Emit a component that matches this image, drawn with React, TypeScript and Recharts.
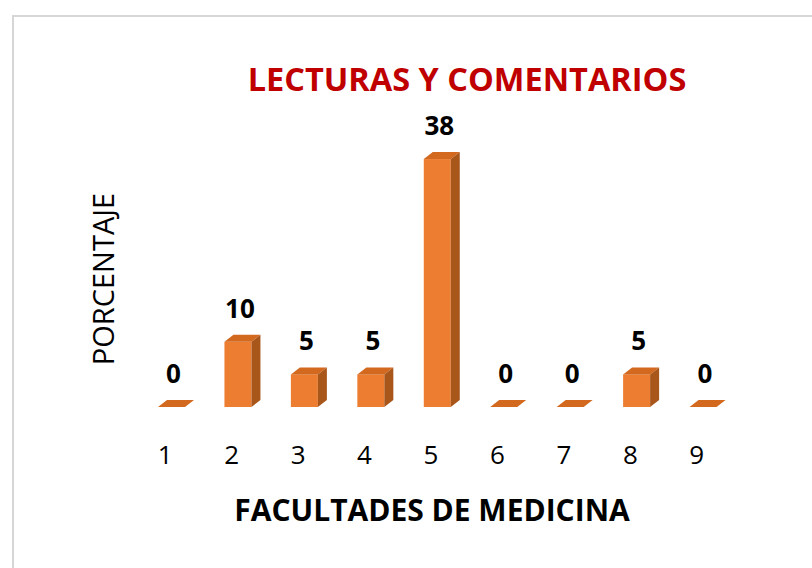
import React from 'react';
import { BarChart, Bar, XAxis, YAxis, LabelList } from 'recharts';

const facultades = ['1', '2', '3', '4', '5', '6', '7', '8', '9'];
const porcentajes = [0, 10, 5, 5, 38, 0, 0, 5, 0];

const data = facultades.map((name, i) => ({ name, value: porcentajes[i] }));

const FONT = '"Open Sans", sans-serif';
const DEPTH_X = 9;
const DEPTH_Y = 7;

// bar with a fake 3D top and right side
const Bar3D = (props: any) => {
  const { x, y, width, height } = props;
  const h = Math.max(height, 0);
  return (
    <g>
      <rect x={x} y={y} width={width} height={h} fill="#ED7D31" />
      <polygon
        points={`${x},${y} ${x + DEPTH_X},${y - DEPTH_Y} ${x + width + DEPTH_X},${y - DEPTH_Y} ${x + width},${y}`}
        fill="#D2691F"
      />
      <polygon
        points={`${x + width},${y} ${x + width + DEPTH_X},${y - DEPTH_Y} ${x + width + DEPTH_X},${y + h - DEPTH_Y} ${x + width},${y + h}`}
        fill="#A9561B"
      />
    </g>
  );
};

const ValueLabel = (props: any) => {
  const { x, y, width, value } = props;
  return (
    <text
      x={x + width / 2 + 2}
      y={y - 24}
      textAnchor="middle"
      fontFamily={FONT}
      fontWeight="bold"
      fontSize={26}
      fill="#000"
    >
      {value}
    </text>
  );
};

export default function App() {
  return (
    <div style={{ position: 'absolute', left: 0, top: 0, width: 812, height: 568, overflow: 'hidden', background: '#fff' }}>
      <div
        style={{
          position: 'absolute',
          left: 12,
          top: 15,
          width: 900,
          height: 700,
          border: '2px solid #d6d6d6',
        }}
      />
      <BarChart
        width={812}
        height={568}
        data={data}
        margin={{ top: 146, right: 76, left: 138, bottom: 101 }}
        style={{ position: 'absolute', left: 0, top: 0 }}
      >
        <XAxis
          dataKey="name"
          axisLine={false}
          tickLine={false}
          height={60}
          tickMargin={33}
          tick={{ fontSize: 26, fill: '#000', fontFamily: FONT, dx: -6 }}
          interval={0}
        />
        <YAxis hide domain={[0, 40]} />
        <Bar dataKey="value" barSize={27} shape={<Bar3D />} isAnimationActive={false}>
          <LabelList dataKey="value" content={<ValueLabel />} />
        </Bar>
      </BarChart>
      <svg width={812} height={568} style={{ position: 'absolute', left: 0, top: 0, pointerEvents: 'none' }}>
        <text x={467} y={91} textAnchor="middle" fontFamily={FONT} fontWeight="bold" fontSize={32.5} fill="#C00000">
          LECTURAS Y COMENTARIOS
        </text>
        <text
          x={0}
          y={0}
          transform="translate(114, 279) rotate(-90)"
          textAnchor="middle"
          fontFamily={FONT}
          fontSize={29}
          fill="#000"
        >
          PORCENTAJE
        </text>
        <text x={432} y={521} textAnchor="middle" fontFamily={FONT} fontWeight="bold" fontSize={30} fill="#000">
          FACULTADES DE MEDICINA
        </text>
      </svg>
    </div>
  );
}
